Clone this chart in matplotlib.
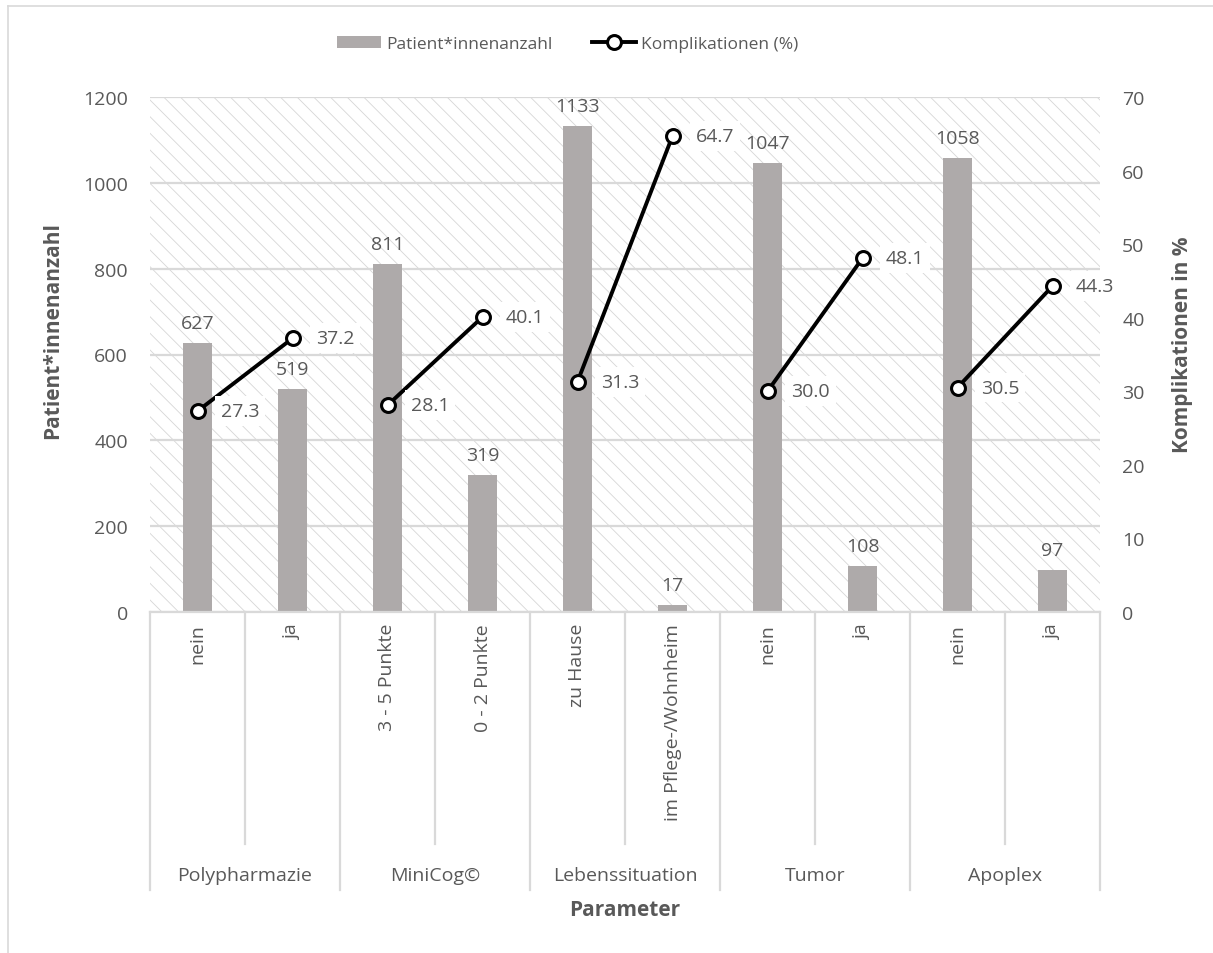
import matplotlib.pyplot as plt
from matplotlib.patches import Rectangle
from matplotlib.lines import Line2D

plt.rcParams["font.family"] = ["Open Sans", "DejaVu Sans"]
plt.rcParams["hatch.linewidth"] = 0.6
plt.rcParams["hatch.color"] = "#d6d6d6"

groups = ["Polypharmazie", "MiniCog©", "Lebenssituation", "Tumor", "Apoplex"]
subcats = ["nein", "ja", "3 - 5 Punkte", "0 - 2 Punkte", "zu Hause",
           "im Pflege-/Wohnheim", "nein", "ja", "nein", "ja"]
patients = [627, 519, 811, 319, 1133, 17, 1047, 108, 1058, 97]
complications = [27.3, 37.2, 28.1, 40.1, 31.3, 64.7, 30.0, 48.1, 30.5, 44.3]

txt = "#595959"
grid = "#d9d9d9"
bar_col = "#aeaaaa"
fs = 14

fig = plt.figure(figsize=(12.13, 9.54), dpi=100)
ax = fig.add_axes([150 / 1213, 1 - 613 / 954, 950 / 1213, 515 / 954])
ax2 = ax.twinx()

# hatched plot background
ax.add_patch(Rectangle((0, 0), 1, 1, transform=ax.transAxes, facecolor="white",
                       edgecolor="#d6d6d6", hatch="\\\\", linewidth=0, zorder=0.1))

x = list(range(len(subcats)))
bars = ax.bar(x, patients, width=0.3, color=bar_col, zorder=2,
              label="Patient*innenanzahl")
ax.bar_label(bars, labels=[str(v) for v in patients], padding=8,
             fontsize=fs, color=txt)

ax.set_xlim(-0.5, 9.5)
ax.set_ylim(0, 1200)
ax.set_yticks(range(0, 1201, 200))
ax.yaxis.grid(True, color=grid, linewidth=1.6, zorder=0.5)
ax.set_axisbelow(True)
for s in ["top", "right", "left"]:
    ax.spines[s].set_visible(False)
ax.spines["bottom"].set_color(grid)
ax.spines["bottom"].set_linewidth(1.6)
ax.tick_params(axis="y", length=0, pad=16, labelsize=fs, labelcolor=txt)
ax.set_xticks(x, subcats, rotation=90)
ax.tick_params(axis="x", length=0, pad=8, labelsize=fs, labelcolor=txt)
ax.set_ylabel("Patient*innenanzahl", fontsize=15, fontweight="bold", color=txt)
ax.yaxis.set_label_coords(-0.0916, 0.548)

# complication rates, one segment per parameter
line = None
for g in range(len(groups)):
    xs = x[2 * g:2 * g + 2]
    ys = complications[2 * g:2 * g + 2]
    line, = ax2.plot(xs, ys, color="black", linewidth=2.8, marker="o",
                     markersize=10, markerfacecolor="white",
                     markeredgecolor="black", markeredgewidth=2.2,
                     zorder=3, label="Komplikationen (%)")
for xi, yi in zip(x, complications):
    ax2.annotate(f"{yi:.1f}", (xi, yi), xytext=(17, 0), textcoords="offset points",
                 ha="left", va="center", fontsize=fs, color=txt, zorder=4,
                 bbox=dict(boxstyle="square,pad=0.3", facecolor="white",
                           edgecolor="none"))

ax2.set_ylim(0, 70)
ax2.set_yticks(range(0, 71, 10))
for s in ["top", "right", "left", "bottom"]:
    ax2.spines[s].set_visible(False)
ax2.tick_params(axis="y", length=0, pad=16, labelsize=fs, labelcolor=txt)
ax2.set_ylabel("Komplikationen in %", fontsize=15, fontweight="bold", color=txt)
ax2.yaxis.set_label_coords(1.076, 0.52)

# multi-level category axis
tr = ax.get_xaxis_transform()
for i in range(len(subcats) + 1):
    xb = i - 0.5
    depth = -0.54 if i % 2 == 0 else -0.45
    ax.plot([xb, xb], [0, depth], transform=tr, color=grid, linewidth=1.6,
            clip_on=False)
for g, name in enumerate(groups):
    ax.text(2 * g + 0.5, -0.511, name, transform=tr, ha="center", va="center",
            fontsize=fs, color=txt)
ax.text(4.5, -0.577, "Parameter", transform=tr, ha="center", va="center",
        fontsize=15, fontweight="bold", color=txt)

fig.legend([bars, line], ["Patient*innenanzahl", "Komplikationen (%)"],
           loc="center", bbox_to_anchor=(0.468, 0.953), ncol=2, frameon=False,
           fontsize=12.5, handlelength=2.5, handletextpad=0.3, columnspacing=2.3,
           labelcolor=txt)

# chart area border
fig.add_artist(Line2D([8 / 1213, 8 / 1213], [0, 1 - 7 / 954], color=grid, linewidth=1.2))
fig.add_artist(Line2D([8 / 1213, 1], [1 - 7 / 954, 1 - 7 / 954], color=grid, linewidth=1.2))

fig.savefig("out.png", dpi=100)
